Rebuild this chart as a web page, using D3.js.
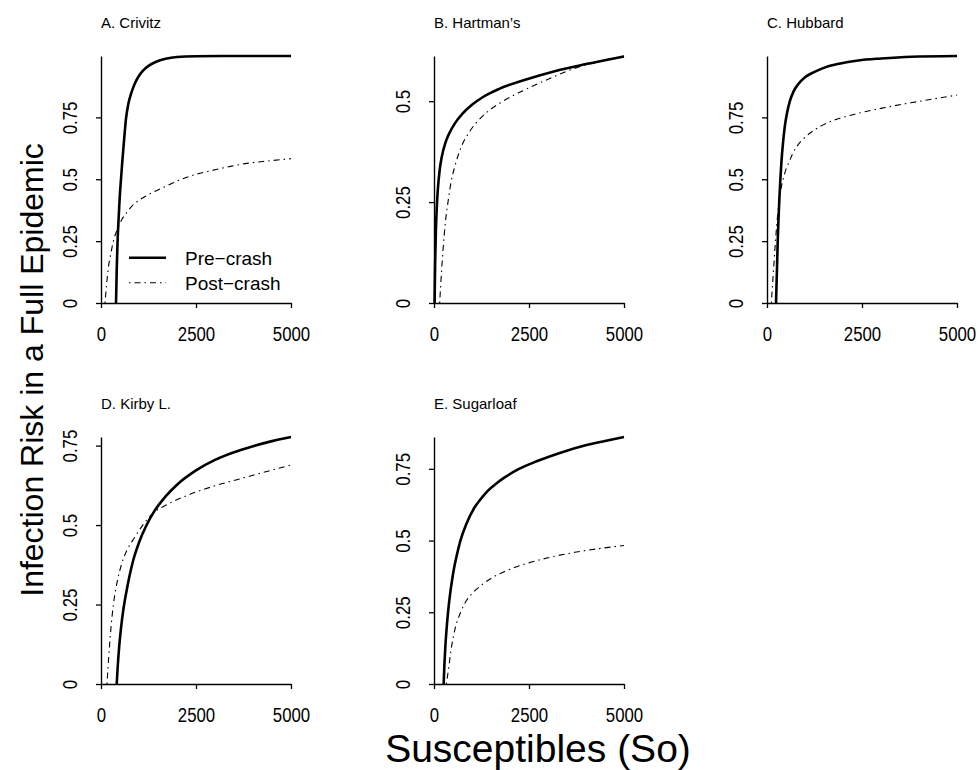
<!DOCTYPE html>
<html><head><meta charset="utf-8">
<script src="https://cdn.jsdelivr.net/npm/d3@7"></script>
<style>
html,body{margin:0;padding:0;background:#fff;}
svg{display:block;}
.tick text{font-family:"Liberation Sans",Arial,Helvetica,sans-serif;font-size:20.5px;fill:#000;}
</style></head>
<body>
<script>
// ---- data: [Susceptibles S0, infection risk] ----
const panelTitles = ["A. Crivitz", "B. Hartman\u2019s", "C. Hubbard", "D. Kirby L.", "E. Sugarloaf"];
const seriesNames = ["Pre\u2212crash", "Post\u2212crash"];
const xTickValues = [0, 2500, 5000];
const yTickValues = [0, 0.25, 0.5, 0.75];

const crivitzPre = [[395,0],[405,0.07],[415,0.14],[428,0.21],[440,0.265],[460,0.33],[490,0.42],[526,0.5],[560,0.57],[600,0.645],[658,0.745],[720,0.805],[800,0.85],[900,0.89],[1000,0.918],[1100,0.938],[1250,0.958],[1450,0.975],[1700,0.987],[2000,0.994],[2500,0.997],[3500,0.998],[5000,0.998]];
const crivitzPost = [[105,0],[150,0.08],[200,0.15],[260,0.2],[325,0.25],[440,0.3],[544,0.336],[700,0.37],[807,0.39],[1000,0.415],[1158,0.43],[1400,0.45],[1684,0.47],[2035,0.495],[2500,0.52],[2912,0.535],[3400,0.552],[3790,0.563],[4400,0.574],[5000,0.583]];

const hartmanPre = [[15,0],[30,0.1],[50,0.18],[75,0.24],[100,0.28],[150,0.33],[200,0.36],[300,0.397],[400,0.42],[550,0.445],[750,0.469],[1000,0.491],[1300,0.511],[1700,0.53],[2400,0.553],[3200,0.575],[4000,0.592],[5000,0.611]];
const hartmanPost = [[149,0],[200,0.08],[237,0.131],[300,0.2],[368,0.25],[450,0.3],[544,0.337],[719,0.387],[939,0.425],[1246,0.46],[1816,0.5],[2386,0.528],[3088,0.558],[3600,0.578],[4200,0.595],[5000,0.612]];

const hubbardPre = [[238,0],[250,0.07],[265,0.15],[282,0.25],[300,0.33],[325,0.42],[352,0.5],[380,0.57],[420,0.645],[470,0.715],[530,0.77],[600,0.815],[700,0.855],[820,0.884],[1000,0.912],[1250,0.934],[1550,0.953],[1900,0.967],[2400,0.98],[3000,0.988],[3800,0.995],[5000,0.998]];
const hubbardPost = [[114,0],[140,0.06],[170,0.13],[200,0.2],[230,0.265],[280,0.355],[352,0.445],[423,0.5],[500,0.54],[572,0.566],[680,0.605],[792,0.634],[950,0.662],[1144,0.688],[1400,0.713],[1700,0.735],[2289,0.762],[3081,0.789],[3785,0.809],[4400,0.825],[5000,0.84]];

const kirbyPre = [[414,0],[440,0.055],[480,0.12],[530,0.18],[590,0.235],[660,0.285],[750,0.34],[850,0.39],[1000,0.445],[1200,0.5],[1400,0.543],[1700,0.59],[2000,0.627],[2500,0.672],[3000,0.705],[3500,0.729],[4000,0.748],[4500,0.764],[5000,0.777]];
const kirbyPost = [[158,0],[200,0.08],[250,0.16],[326,0.25],[423,0.32],[550,0.38],[700,0.425],[880,0.46],[1100,0.5],[1350,0.535],[1700,0.562],[2200,0.59],[2900,0.62],[3800,0.65],[5000,0.689]];

const sugarloafPre = [[254,0],[275,0.07],[298,0.129],[330,0.19],[368,0.248],[420,0.31],[474,0.361],[530,0.405],[588,0.442],[693,0.499],[851,0.558],[1070,0.616],[1250,0.648],[1421,0.674],[1650,0.7],[1860,0.72],[2211,0.748],[2737,0.778],[3351,0.807],[3965,0.831],[4500,0.847],[5000,0.861]];
const sugarloafPost = [[325,0],[380,0.05],[450,0.12],[550,0.19],[700,0.25],[850,0.29],[1000,0.315],[1250,0.345],[1500,0.368],[1860,0.392],[2386,0.418],[3000,0.44],[3702,0.459],[4400,0.473],[5000,0.483]];

const panels = [
  {title: panelTitles[0], pre: crivitzPre, post: crivitzPost, legend: true},
  {title: panelTitles[1], pre: hartmanPre, post: hartmanPost},
  {title: panelTitles[2], pre: hubbardPre, post: hubbardPost},
  {title: panelTitles[3], pre: kirbyPre, post: kirbyPost},
  {title: panelTitles[4], pre: sugarloafPre, post: sugarloafPost}
];

// ---- layout ----
const W = 980, H = 770;
const colLeft = [101, 434, 767];
const rowTop = [56, 437];
const pw = 190, ph = 247;
const FONT = "'Liberation Sans', Arial, Helvetica, sans-serif";
const NARROW = 0.82; // tick labels use a narrow face in the reference

const svg = d3.select("body").append("svg").attr("width", W).attr("height", H)
  .style("background", "#fff");

panels.forEach((p, i) => {
  const col = i % 3, row = Math.floor(i / 3);
  const g = svg.append("g").attr("transform", `translate(${colLeft[col]},${rowTop[row]})`);
  const ymax = d3.max([...p.pre, ...p.post], d => d[1]);
  const x = d3.scaleLinear().domain([0, 5000]).range([0, pw]);
  const y = d3.scaleLinear().domain([0, ymax]).range([ph, 0]);

  const line = d3.line().x(d => x(d[0])).y(d => y(d[1])).curve(d3.curveMonotoneX);

  g.append("path").datum(p.post).attr("d", line)
    .attr("fill", "none").attr("stroke", "#000").attr("stroke-width", 1.1)
    .attr("stroke-dasharray", "1.5,4,6,4");
  g.append("path").datum(p.pre).attr("d", line)
    .attr("fill", "none").attr("stroke", "#000").attr("stroke-width", 2.6)
    .attr("stroke-linejoin", "round");

  const xa = g.append("g").attr("transform", `translate(0,${ph})`)
    .call(d3.axisBottom(x).tickValues(xTickValues).tickSizeInner(5).tickSizeOuter(0).tickFormat(d3.format("d")));
  xa.selectAll("text").attr("y", 0).attr("dy", 0)
    .attr("transform", `translate(0,38) scale(${NARROW},1)`);

  const ya = g.append("g")
    .call(d3.axisLeft(y).tickValues(yTickValues.filter(v => v <= ymax)).tickSizeInner(5).tickSizeOuter(0).tickFormat(d => String(d)));
  ya.selectAll("text").attr("transform", `rotate(-90) scale(${NARROW},1)`).attr("x", 0).attr("y", -24)
    .attr("dy", 0).attr("text-anchor", "middle");

  [xa, ya].forEach(a => {
    a.select(".domain").attr("stroke", "#000").attr("stroke-width", 1.4);
    a.selectAll(".tick line").attr("stroke", "#000").attr("stroke-width", 1.3);
  });

  g.append("text").attr("x", 0).attr("y", -28).text(p.title)
    .attr("font-family", FONT).attr("font-size", 15).attr("fill", "#000");

  if (p.legend) {
    const lg = g.append("g");
    const items = [{name: seriesNames[0], w: 2.6, dash: null, yy: 257.7},
                   {name: seriesNames[1], w: 1.1, dash: "1.5,4,6,4", yy: 282.7}];
    items.forEach(it => {
      const yy = it.yy - rowTop[0];
      lg.append("line").attr("x1", 129 - colLeft[0]).attr("x2", 166 - colLeft[0])
        .attr("y1", yy).attr("y2", yy).attr("stroke", "#000").attr("stroke-width", it.w)
        .attr("stroke-dasharray", it.dash);
      lg.append("text").attr("x", 185 - colLeft[0]).attr("y", yy + 6.8).text(it.name)
        .attr("font-family", FONT).attr("font-size", 19).attr("fill", "#000");
    });
  }
});

svg.append("text").attr("transform", "translate(43,370) rotate(-90)")
  .attr("text-anchor", "middle").attr("font-family", FONT).attr("font-size", 32)
  .attr("fill", "#000").text("Infection Risk in a Full Epidemic");

svg.append("text").attr("x", 538).attr("y", 762).attr("text-anchor", "middle")
  .attr("font-family", FONT).attr("font-size", 39).attr("fill", "#000")
  .text("Susceptibles (So)");
</script>
</body></html>
